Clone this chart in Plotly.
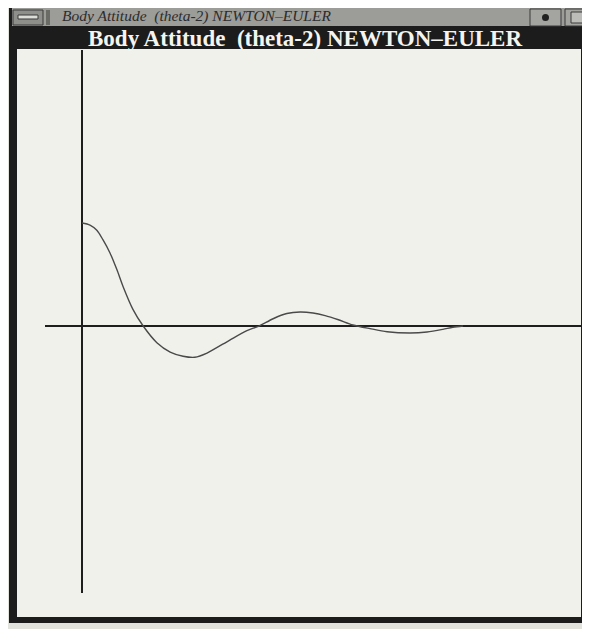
import plotly.graph_objects as go

# Data (time, attitude)
time = [0.0, 0.21, 0.39, 0.55, 0.74, 0.92, 1.08, 1.34, 1.61, 1.97, 2.32, 2.66, 2.97,
        3.29, 3.89, 4.34, 4.66, 5.03, 5.39, 5.74, 6.08, 6.40, 6.75, 7.13, 7.58,
        8.03, 8.63, 9.08, 9.50, 9.76, 10.03]
theta2 = [0.99, 0.97, 0.92, 0.83, 0.70, 0.54, 0.38, 0.16, 0.0, -0.16, -0.25, -0.29,
          -0.30, -0.26, -0.135, -0.045, 0.0, 0.07, 0.12, 0.135, 0.125, 0.10, 0.06,
          0.01, -0.025, -0.055, -0.067, -0.058, -0.032, -0.012, 0.0]

TITLE = "Body Attitude  (theta-2) NEWTON\u2013EULER"
OFF = 8                      # browser body margin
W, H = 590 - OFF, 629 - OFF
L, R, T, B = 45 - OFF, 0, 50 - OFF, 36
PW = W - L - R
PH = H - T - B


def px(x):
    return (x - OFF - L) / PW


def py(y):
    return (H - B - (y - OFF)) / PH


fig = go.Figure()
fig.add_trace(go.Scatter(x=time, y=theta2, mode="lines",
                         line=dict(color="#4a4a4a", width=1.4, shape="spline",
                                   smoothing=0.8),
                         hoverinfo="skip", showlegend=False))

shapes = []


def rect(x0, y0, x1, y1, fill, line_color=None, lw=0):
    shapes.append(dict(type="rect", xref="paper", yref="paper",
                       x0=px(x0), x1=px(x1), y0=py(y1), y1=py(y0),
                       fillcolor=fill, line=dict(color=line_color or fill, width=lw),
                       layer="below"))


# outer page strip
rect(0, 0, 600, 640, "#e2e2dc")
# window frame
rect(9, 5, 600, 623, "#1c1c1c")
# title bar (grey)
rect(12, 8, 590, 26, "#9c9c98")
# menu button at left
rect(13, 10, 43, 25, "#8e8e8a", "#3a3a3a", 1)
rect(18, 15, 38, 19, "#dcdcd8", "#3a3a3a", 1)
rect(46, 10, 50, 25, "#6a6a66")
# buttons at right
rect(530, 9, 561, 26, "#a4a4a0", "#3a3a3a", 1)
rect(565, 9, 590, 26, "#a4a4a0", "#3a3a3a", 1)
shapes.append(dict(type="circle", xref="paper", yref="paper",
                   x0=px(542), x1=px(549), y0=py(21), y1=py(14),
                   fillcolor="#222222", line=dict(width=0), layer="below"))
rect(571, 12, 584, 23, "#bcbcb8", "#3a3a3a", 1)
# white panel
rect(17, 49, 581, 617, "#f1f1ec")

fig.update_layout(
    width=W, height=H,
    margin=dict(l=L, r=R, t=T, b=B, pad=0),
    paper_bgcolor="#e2e2dc",
    plot_bgcolor="rgba(0,0,0,0)",
    shapes=shapes,
    xaxis=dict(range=[-0.974, 13.37], showgrid=False, showticklabels=False,
               ticks="", zeroline=True, zerolinecolor="#1e1e1e", zerolinewidth=2,
               showline=False, fixedrange=True),
    yaxis=dict(range=[-2.567, 2.654], showgrid=False, showticklabels=False,
               ticks="", zeroline=True, zerolinecolor="#1e1e1e", zerolinewidth=2,
               showline=False, fixedrange=True),
    annotations=[
        dict(text="<b>" + TITLE + "</b>", xref="paper", yref="paper",
             x=px(305), y=py(38.5), xanchor="center", yanchor="middle",
             showarrow=False,
             font=dict(family="Liberation Serif, Times New Roman, serif",
                       size=23, color="#f4f4f0")),
        dict(text="<i>" + TITLE + "</i>", xref="paper", yref="paper",
             x=px(60), y=py(16), xanchor="left", yanchor="middle",
             showarrow=False,
             font=dict(family="Liberation Serif, Times New Roman, serif",
                       size=15.5, color="#2c2c2c")),
    ],
)

fig.write_html("out.html")
